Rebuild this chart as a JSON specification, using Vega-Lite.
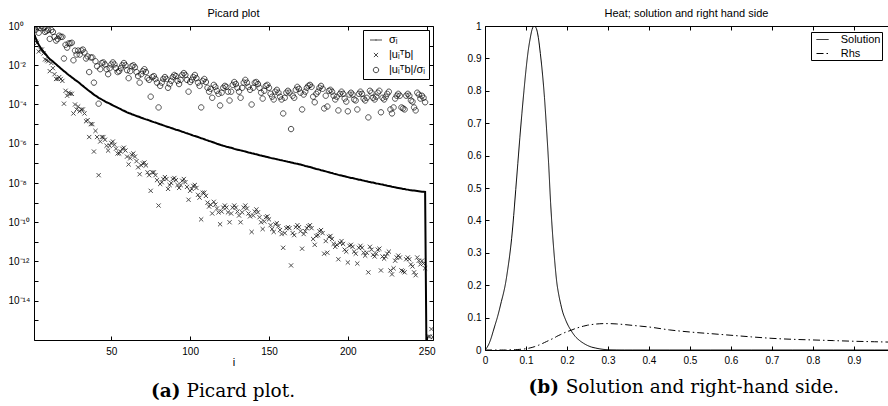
{
  "$schema": "https://vega.github.io/schema/vega-lite/v6.json",
  "background": "white",
  "padding": {"left": 7, "top": 7, "right": 0, "bottom": 0},
  "config": {
    "font": "Liberation Sans",
    "view": {"stroke": "black", "strokeWidth": 1},
    "axis": {"labelColor": "black", "tickColor": "black", "domainColor": "black", "labelFontSize": 10, "labelFont": "Liberation Sans", "grid": false, "titleFontWeight": "normal", "titleColor": "black", "titleFontSize": 11, "titleFont": "Liberation Sans", "tickSize": -4, "labelFlush": false, "labelOverlap": false},
    "title": {"fontWeight": "normal", "fontSize": 11, "color": "black", "font": "Liberation Sans"},
    "legend": {"labelFont": "Liberation Sans", "labelColor": "black"}
  },
  "spacing": 31,
  "resolve": {"scale": {"shape": "independent", "strokeDash": "independent"}, "legend": {"shape": "independent", "strokeDash": "independent"}},
  "hconcat": [
    {
      "spacing": 14,
      "resolve": {"scale": {"shape": "independent", "strokeDash": "independent"}, "legend": {"shape": "independent", "strokeDash": "independent"}},
      "vconcat": [
        {
          "width": 399,
          "height": 314,
          "title": {"text": "Picard plot", "offset": -7, "baseline": "alphabetic"},
          "data": {"values": [
{"i":1,"s":0.4,"u":0.28,"c":0.71},{"i":2,"s":0.25,"u":0.16,"c":0.63},{"i":3,"s":0.16,"u":0.14,"c":0.89},{"i":4,"s":0.11,"u":0.05,"c":0.45},{"i":5,"s":0.083,"u":0.063,"c":0.79},
{"i":6,"s":0.063,"u":0.063,"c":1.0},{"i":7,"s":0.05,"u":0.04,"c":0.79},{"i":8,"s":0.04,"u":0.02,"c":0.5},{"i":9,"s":0.032,"u":0.018,"c":0.56},{"i":10,"s":0.025,"u":0.016,"c":0.63},
{"i":11,"s":0.021,"u":0.005,"c":0.22},{"i":12,"s":0.018,"u":0.013,"c":0.63},{"i":13,"s":0.0155,"u":0.0071,"c":0.5},{"i":14,"s":0.0132,"u":0.0035,"c":0.28},{"i":15,"s":0.0112,"u":0.002,"c":0.18},
{"i":16,"s":0.0095,"u":0.002,"c":0.22},{"i":17,"s":0.0081,"u":0.0025,"c":0.32},{"i":18,"s":0.0069,"u":0.002,"c":0.28},{"i":19,"s":0.0059,"u":0.0016,"c":0.28},{"i":20,"s":0.005,"u":1.1e-4,"c":0.022},
{"i":21,"s":0.0044,"u":5.0e-4,"c":0.11},{"i":22,"s":0.0037,"u":2.8e-4,"c":0.079},{"i":23,"s":0.0032,"u":4.0e-4,"c":0.13},{"i":24,"s":0.0028,"u":3.5e-4,"c":0.13},{"i":25,"s":0.0024,"u":3.5e-4,"c":0.14},
{"i":26,"s":0.0021,"u":3.5e-5,"c":0.018},{"i":27,"s":0.0018,"u":1.0e-4,"c":0.056},{"i":28,"s":0.0016,"u":5.6e-5,"c":0.035},{"i":29,"s":0.0014,"u":7.9e-5,"c":0.056},{"i":30,"s":0.0012,"u":4.5e-5,"c":0.035},
{"i":31,"s":0.00102,"u":5.6e-5,"c":0.056},{"i":32,"s":8.9e-4,"u":5.6e-5,"c":0.063},{"i":33,"s":7.6e-4,"u":3.5e-5,"c":0.045},{"i":34,"s":6.6e-4,"u":1.4e-5,"c":0.022},{"i":35,"s":5.6e-4,"u":1.6e-5,"c":0.028},
{"i":36,"s":4.9e-4,"u":2.2e-6,"c":0.0045},{"i":37,"s":4.3e-4,"u":1.0e-5,"c":0.025},{"i":38,"s":3.7e-4,"u":1.0e-5,"c":0.025},{"i":39,"s":3.2e-4,"u":4.0e-7,"c":0.0013},{"i":40,"s":2.8e-4,"u":4.5e-6,"c":0.016},
{"i":41,"s":2.5e-4,"u":2.2e-6,"c":0.0089},{"i":42,"s":2.2e-4,"u":2.5e-8,"c":1.1e-4},{"i":43,"s":2.0e-4,"u":1.3e-6,"c":0.0063},{"i":44,"s":1.8e-4,"u":2.2e-6,"c":0.013},{"i":45,"s":1.6e-4,"u":2.2e-6,"c":0.014},
{"i":46,"s":1.45e-4,"u":1.6e-6,"c":0.011},{"i":47,"s":1.3e-4,"u":7.9e-7,"c":0.0063},{"i":48,"s":1.2e-4,"u":4.5e-7,"c":0.0035},{"i":49,"s":1.1e-4,"u":7.9e-7,"c":0.0071},{"i":50,"s":1.0e-4,"u":1.1e-6,"c":0.011},
{"i":51,"s":9.1e-5,"u":1.3e-6,"c":0.014},{"i":52,"s":8.3e-5,"u":8.9e-7,"c":0.011},{"i":53,"s":7.6e-5,"u":5.6e-7,"c":0.0071},{"i":54,"s":6.9e-5,"u":3.2e-7,"c":0.0045},{"i":55,"s":6.3e-5,"u":3.2e-7,"c":0.005},
{"i":56,"s":5.8e-5,"u":4.0e-7,"c":0.0071},{"i":57,"s":5.2e-5,"u":5.6e-7,"c":0.01},{"i":58,"s":4.8e-5,"u":6.3e-7,"c":0.013},{"i":59,"s":4.4e-5,"u":4.5e-7,"c":0.01},{"i":60,"s":4.0e-5,"u":2.2e-7,"c":0.0056},
{"i":61,"s":3.7e-5,"u":8.9e-8,"c":0.0022},{"i":62,"s":3.5e-5,"u":1.8e-7,"c":0.005},{"i":63,"s":3.2e-5,"u":2.8e-7,"c":0.0089},{"i":64,"s":3.0e-5,"u":3.2e-7,"c":0.01},{"i":65,"s":2.8e-5,"u":2.2e-7,"c":0.0079},
{"i":66,"s":2.6e-5,"u":1.3e-7,"c":0.0045},{"i":67,"s":2.45e-5,"u":6.3e-8,"c":0.0028},{"i":68,"s":2.3e-5,"u":2.8e-8,"c":0.0013},{"i":69,"s":2.1e-5,"u":7.9e-8,"c":0.0035},{"i":70,"s":2.0e-5,"u":1.0e-7,"c":0.005},
{"i":71,"s":1.86e-5,"u":1.1e-7,"c":0.0063},{"i":72,"s":1.74e-5,"u":7.9e-8,"c":0.0045},{"i":73,"s":1.66e-5,"u":3.5e-8,"c":0.0022},{"i":74,"s":1.55e-5,"u":2.5e-8,"c":0.0018},{"i":75,"s":1.45e-5,"u":4.0e-9,"c":2.5e-4},
{"i":76,"s":1.35e-5,"u":3.5e-8,"c":0.0025},{"i":77,"s":1.26e-5,"u":3.5e-8,"c":0.0028},{"i":78,"s":1.2e-5,"u":2.5e-8,"c":0.002},{"i":79,"s":1.12e-5,"u":1.4e-8,"c":0.0013},{"i":80,"s":1.05e-5,"u":7.1e-10,"c":7.1e-5},
{"i":81,"s":9.8e-6,"u":8.9e-9,"c":8.9e-4},{"i":82,"s":9.3e-6,"u":1.1e-8,"c":0.0013},{"i":83,"s":8.7e-6,"u":1.6e-8,"c":0.002},{"i":84,"s":8.1e-6,"u":2.0e-8,"c":0.0025},{"i":85,"s":7.6e-6,"u":1.6e-8,"c":0.002},
{"i":86,"s":7.2e-6,"u":5.0e-9,"c":7.1e-4},{"i":87,"s":6.8e-6,"u":7.9e-9,"c":0.0011},{"i":88,"s":6.3e-6,"u":1.0e-8,"c":0.0016},{"i":89,"s":6.0e-6,"u":1.6e-8,"c":0.0025},{"i":90,"s":5.6e-6,"u":1.8e-8,"c":0.0032},
{"i":91,"s":5.2e-6,"u":1.4e-8,"c":0.0028},{"i":92,"s":5.0e-6,"u":7.9e-9,"c":0.0016},{"i":93,"s":4.7e-6,"u":5.6e-9,"c":0.0011},{"i":94,"s":4.4e-6,"u":7.9e-9,"c":0.0018},{"i":95,"s":4.1e-6,"u":1.3e-8,"c":0.0032},
{"i":96,"s":3.9e-6,"u":1.6e-8,"c":0.004},{"i":97,"s":3.6e-6,"u":1.1e-8,"c":0.0032},{"i":98,"s":3.4e-6,"u":6.3e-9,"c":0.0018},{"i":99,"s":3.2e-6,"u":1.4e-9,"c":4.5e-4},{"i":100,"s":3.0e-6,"u":4.0e-9,"c":0.0014},
{"i":101,"s":2.8e-6,"u":5.0e-9,"c":0.0018},{"i":102,"s":2.6e-6,"u":7.1e-9,"c":0.0025},{"i":103,"s":2.5e-6,"u":7.9e-9,"c":0.0032},{"i":104,"s":2.35e-6,"u":5.6e-9,"c":0.0022},{"i":105,"s":2.2e-6,"u":2.5e-9,"c":0.0013},
{"i":106,"s":2.04e-6,"u":1.8e-9,"c":8.9e-4},{"i":107,"s":1.9e-6,"u":1.4e-10,"c":7.1e-5},{"i":108,"s":1.82e-6,"u":3.2e-9,"c":0.0016},{"i":109,"s":1.7e-6,"u":3.2e-9,"c":0.002},{"i":110,"s":1.58e-6,"u":2.2e-9,"c":0.0014},
{"i":111,"s":1.48e-6,"u":1.0e-9,"c":7.1e-4},{"i":112,"s":1.38e-6,"u":6.3e-10,"c":4.5e-4},{"i":113,"s":1.32e-6,"u":7.9e-10,"c":6.3e-4},{"i":114,"s":1.23e-6,"u":2.8e-10,"c":2.2e-4},{"i":115,"s":1.15e-6,"u":1.1e-9,"c":0.001},
{"i":116,"s":1.07e-6,"u":7.9e-10,"c":7.9e-4},{"i":117,"s":1.0e-6,"u":5.0e-10,"c":5.0e-4},{"i":118,"s":9.5e-7,"u":3.2e-10,"c":3.5e-4},{"i":119,"s":8.9e-7,"u":7.9e-11,"c":8.9e-5},{"i":120,"s":8.3e-7,"u":3.5e-10,"c":4.0e-4},
{"i":121,"s":7.9e-7,"u":5.6e-10,"c":7.1e-4},{"i":122,"s":7.6e-7,"u":7.1e-10,"c":8.9e-4},{"i":123,"s":7.1e-7,"u":5.6e-10,"c":7.9e-4},{"i":124,"s":6.8e-7,"u":3.2e-10,"c":4.5e-4},{"i":125,"s":6.5e-7,"u":1.0e-10,"c":1.6e-4},
{"i":126,"s":6.2e-7,"u":2.8e-10,"c":4.5e-4},{"i":127,"s":5.9e-7,"u":5.6e-10,"c":0.001},{"i":128,"s":5.5e-7,"u":7.1e-10,"c":0.0014},{"i":129,"s":5.2e-7,"u":5.6e-10,"c":0.0011},{"i":130,"s":5.0e-7,"u":3.5e-10,"c":7.1e-4},
{"i":131,"s":4.8e-7,"u":2.2e-10,"c":4.5e-4},{"i":132,"s":4.6e-7,"u":1.0e-10,"c":2.2e-4},{"i":133,"s":4.4e-7,"u":3.2e-10,"c":7.1e-4},{"i":134,"s":4.2e-7,"u":5.6e-10,"c":0.0013},{"i":135,"s":4.0e-7,"u":7.1e-10,"c":0.0018},
{"i":136,"s":3.8e-7,"u":5.0e-10,"c":0.0013},{"i":137,"s":3.6e-7,"u":2.8e-10,"c":7.9e-4},{"i":138,"s":3.5e-7,"u":2.0e-10,"c":5.6e-4},{"i":139,"s":3.3e-7,"u":3.2e-11,"c":1.0e-4},{"i":140,"s":3.2e-7,"u":2.2e-10,"c":7.1e-4},
{"i":141,"s":3.0e-7,"u":3.5e-10,"c":0.0013},{"i":142,"s":2.9e-7,"u":4.5e-10,"c":0.0014},{"i":143,"s":2.75e-7,"u":3.2e-10,"c":0.0011},{"i":144,"s":2.6e-7,"u":1.8e-10,"c":7.1e-4},{"i":145,"s":2.5e-7,"u":1.0e-10,"c":4.0e-4},
{"i":146,"s":2.4e-7,"u":4.5e-11,"c":2.0e-4},{"i":147,"s":2.3e-7,"u":1.1e-10,"c":5.0e-4},{"i":148,"s":2.2e-7,"u":1.8e-10,"c":8.9e-4},{"i":149,"s":2.1e-7,"u":2.0e-10,"c":0.001},{"i":150,"s":2.0e-7,"u":1.4e-10,"c":7.1e-4},
{"i":151,"s":1.9e-7,"u":7.1e-11,"c":3.5e-4},{"i":152,"s":1.82e-7,"u":4.5e-11,"c":2.5e-4},{"i":153,"s":1.78e-7,"u":3.2e-11,"c":1.8e-4},{"i":154,"s":1.7e-7,"u":7.9e-11,"c":4.5e-4},{"i":155,"s":1.62e-7,"u":8.9e-11,"c":5.6e-4},
{"i":156,"s":1.55e-7,"u":6.3e-11,"c":4.0e-4},{"i":157,"s":1.48e-7,"u":4.0e-11,"c":2.5e-4},{"i":158,"s":1.45e-7,"u":2.5e-11,"c":1.8e-4},{"i":159,"s":1.38e-7,"u":5.0e-12,"c":3.5e-5},{"i":160,"s":1.32e-7,"u":2.8e-11,"c":2.2e-4},
{"i":161,"s":1.26e-7,"u":5.0e-11,"c":4.0e-4},{"i":162,"s":1.2e-7,"u":5.6e-11,"c":5.0e-4},{"i":163,"s":1.17e-7,"u":5.0e-11,"c":4.0e-4},{"i":164,"s":1.12e-7,"u":6.3e-13,"c":5.6e-6},{"i":165,"s":1.07e-7,"u":2.8e-11,"c":2.8e-4},
{"i":166,"s":1.02e-7,"u":2.2e-11,"c":2.2e-4},{"i":167,"s":9.8e-8,"u":5.6e-11,"c":5.6e-4},{"i":168,"s":9.5e-8,"u":7.1e-11,"c":7.9e-4},{"i":169,"s":9.1e-8,"u":5.6e-11,"c":6.3e-4},{"i":170,"s":8.7e-8,"u":3.5e-11,"c":4.0e-4},
{"i":171,"s":8.3e-8,"u":4.5e-12,"c":5.6e-5},{"i":172,"s":7.9e-8,"u":2.5e-11,"c":3.2e-4},{"i":173,"s":7.4e-8,"u":3.5e-11,"c":4.5e-4},{"i":174,"s":7.1e-8,"u":5.0e-11,"c":7.1e-4},{"i":175,"s":6.8e-8,"u":6.3e-11,"c":8.9e-4},
{"i":176,"s":6.5e-8,"u":7.1e-11,"c":0.001},{"i":177,"s":6.2e-8,"u":5.0e-11,"c":7.9e-4},{"i":178,"s":5.8e-8,"u":1.4e-11,"c":2.5e-4},{"i":179,"s":5.5e-8,"u":7.1e-12,"c":1.3e-4},{"i":180,"s":5.2e-8,"u":2.0e-11,"c":3.5e-4},
{"i":181,"s":5.0e-8,"u":2.2e-11,"c":4.5e-4},{"i":182,"s":4.8e-8,"u":3.5e-11,"c":7.1e-4},{"i":183,"s":4.5e-8,"u":4.0e-11,"c":8.9e-4},{"i":184,"s":4.3e-8,"u":2.8e-11,"c":6.3e-4},{"i":185,"s":4.1e-8,"u":2.5e-12,"c":6.3e-5},
{"i":186,"s":3.9e-8,"u":1.1e-11,"c":2.8e-4},{"i":187,"s":3.7e-8,"u":2.8e-12,"c":7.9e-5},{"i":188,"s":3.5e-8,"u":1.8e-11,"c":5.0e-4},{"i":189,"s":3.3e-8,"u":2.0e-11,"c":5.6e-4},{"i":190,"s":3.2e-8,"u":1.4e-11,"c":4.5e-4},
{"i":191,"s":3.0e-8,"u":7.9e-12,"c":2.8e-4},{"i":192,"s":2.9e-8,"u":5.6e-12,"c":1.8e-4},{"i":193,"s":2.75e-8,"u":7.1e-12,"c":2.5e-4},{"i":194,"s":2.6e-8,"u":1.3e-12,"c":5.0e-5},{"i":195,"s":2.5e-8,"u":8.9e-12,"c":3.5e-4},
{"i":196,"s":2.4e-8,"u":1.1e-11,"c":4.5e-4},{"i":197,"s":2.3e-8,"u":7.9e-12,"c":3.5e-4},{"i":198,"s":2.2e-8,"u":4.0e-12,"c":2.0e-4},{"i":199,"s":2.1e-8,"u":3.2e-12,"c":1.4e-4},{"i":200,"s":2.0e-8,"u":8.9e-13,"c":4.5e-5},
{"i":201,"s":1.9e-8,"u":6.3e-12,"c":3.2e-4},{"i":202,"s":1.82e-8,"u":7.1e-12,"c":4.0e-4},{"i":203,"s":1.78e-8,"u":5.6e-12,"c":3.2e-4},{"i":204,"s":1.7e-8,"u":3.2e-12,"c":1.8e-4},{"i":205,"s":1.62e-8,"u":2.5e-12,"c":1.6e-4},
{"i":206,"s":1.55e-8,"u":7.9e-13,"c":5.6e-5},{"i":207,"s":1.48e-8,"u":5.0e-12,"c":3.5e-4},{"i":208,"s":1.45e-8,"u":6.3e-12,"c":4.5e-4},{"i":209,"s":1.38e-8,"u":5.0e-12,"c":3.5e-4},{"i":210,"s":1.32e-8,"u":2.8e-12,"c":2.0e-4},
{"i":211,"s":1.26e-8,"u":2.0e-12,"c":1.6e-4},{"i":212,"s":1.23e-8,"u":2.8e-12,"c":2.2e-4},{"i":213,"s":1.17e-8,"u":2.8e-13,"c":2.2e-5},{"i":214,"s":1.12e-8,"u":5.6e-12,"c":5.0e-4},{"i":215,"s":1.07e-8,"u":4.0e-12,"c":4.0e-4},
{"i":216,"s":1.05e-8,"u":2.2e-12,"c":2.2e-4},{"i":217,"s":1.0e-8,"u":1.8e-12,"c":1.8e-4},{"i":218,"s":9.5e-9,"u":2.5e-12,"c":2.5e-4},{"i":219,"s":9.3e-9,"u":4.0e-12,"c":4.0e-4},{"i":220,"s":8.9e-9,"u":4.5e-12,"c":5.0e-4},
{"i":221,"s":8.5e-9,"u":3.5e-13,"c":4.0e-5},{"i":222,"s":8.3e-9,"u":1.8e-12,"c":2.2e-4},{"i":223,"s":7.9e-9,"u":1.4e-12,"c":1.8e-4},{"i":224,"s":7.6e-9,"u":1.8e-12,"c":2.5e-4},{"i":225,"s":7.2e-9,"u":2.5e-12,"c":3.5e-4},
{"i":226,"s":7.1e-9,"u":3.2e-12,"c":4.5e-4},{"i":227,"s":6.8e-9,"u":3.5e-13,"c":5.6e-5},{"i":228,"s":6.5e-9,"u":2.2e-13,"c":3.5e-5},{"i":229,"s":6.3e-9,"u":4.5e-13,"c":7.1e-5},{"i":230,"s":6.0e-9,"u":1.1e-12,"c":2.0e-4},
{"i":231,"s":5.8e-9,"u":1.6e-12,"c":2.8e-4},{"i":232,"s":5.6e-9,"u":2.0e-12,"c":3.5e-4},{"i":233,"s":5.4e-9,"u":1.6e-12,"c":2.8e-4},{"i":234,"s":5.2e-9,"u":3.5e-13,"c":7.1e-5},{"i":235,"s":5.0e-9,"u":3.2e-13,"c":6.3e-5},
{"i":236,"s":4.9e-9,"u":2.8e-13,"c":5.6e-5},{"i":237,"s":4.7e-9,"u":1.3e-12,"c":2.8e-4},{"i":238,"s":4.6e-9,"u":1.6e-12,"c":3.5e-4},{"i":239,"s":4.4e-9,"u":1.3e-12,"c":2.8e-4},{"i":240,"s":4.3e-9,"u":7.1e-13,"c":1.6e-4},
{"i":241,"s":4.2e-9,"u":5.6e-13,"c":1.4e-4},{"i":242,"s":4.1e-9,"u":2.8e-13,"c":7.1e-5},{"i":243,"s":4.0e-9,"u":2.0e-13,"c":5.0e-5},{"i":244,"s":3.9e-9,"u":1.6e-12,"c":4.0e-4},{"i":245,"s":3.8e-9,"u":1.1e-12,"c":3.2e-4},
{"i":246,"s":3.7e-9,"u":7.1e-13,"c":2.0e-4},{"i":247,"s":3.6e-9,"u":1.1e-12,"c":2.8e-4},{"i":248,"s":3.6e-9,"u":7.9e-13,"c":2.2e-4},{"i":249,"s":3.5e-9,"u":4.5e-13,"c":1.3e-4},{"i":250,"s":1e-18},
{"i":251,"u":1.5e-16},{"i":252,"u":1.5e-16},{"i":253,"u":3.6e-16},{"i":254,"u":1.4e-16}
          ]},
          "resolve": {"axis": {"x": "independent", "y": "independent"}},
          "layer": [
            {
              "mark": {"type": "line", "color": "black", "strokeWidth": 2, "clip": true},
              "encoding": {
                "x": {"field": "i", "type": "quantitative", "scale": {"domain": [1, 254], "nice": false, "zero": false}, "axis": {"orient": "top", "labels": false, "values": [50, 100, 150, 200, 250], "title": null, "domain": false, "minExtent": 0, "maxExtent": 0}},
                "y": {"field": "s", "type": "quantitative", "scale": {"type": "log", "domain": [1e-16, 1], "nice": false}, "axis": {"orient": "right", "labels": false, "title": null, "domain": false, "minExtent": 0, "maxExtent": 0, "values": [1e-16, 1e-15, 1e-14, 1e-13, 1e-12, 1e-11, 1e-10, 1e-9, 1e-8, 1e-7, 1e-6, 1e-5, 1e-4, 1e-3, 1e-2, 1e-1, 1]}}
              }
            },
            {
              "mark": {"type": "point", "filled": false, "color": "black", "strokeWidth": 1, "size": 144, "clip": true},
              "encoding": {
                "x": {"field": "i", "type": "quantitative", "scale": {"domain": [1, 254], "nice": false, "zero": false}, "axis": {"orient": "bottom", "values": [50, 100, 150, 200, 250], "title": "i", "labelPadding": 10.5, "titlePadding": 0, "domain": false}},
                "y": {"field": "u", "type": "quantitative", "scale": {"type": "log", "domain": [1e-16, 1], "nice": false}, "axis": {"orient": "left", "title": null, "domain": false, "labelAlign": "left", "labelPadding": 30, "values": [1e-16, 1e-15, 1e-14, 1e-13, 1e-12, 1e-11, 1e-10, 1e-9, 1e-8, 1e-7, 1e-6, 1e-5, 1e-4, 1e-3, 1e-2, 1e-1, 1], "labelExpr": "['10⁰','','10⁻²','','10⁻⁴','','10⁻⁶','','10⁻⁸','','10⁻¹⁰','','10⁻¹²','','10⁻¹⁴','',''][round(-log(datum.value)/LN10)]"}},
                "shape": {
                  "datum": "|uᵢᵀb|",
                  "scale": {"domain": ["σᵢ", "|uᵢᵀb|", "|uᵢᵀb|/σᵢ"], "range": ["M-1,0L1,0M0,-0.12L0,0.12", "M-0.35,-0.35L0.35,0.35M-0.35,0.35L0.35,-0.35", "M0.45,0A0.45,0.45,0,1,1,-0.45,0A0.45,0.45,0,1,1,0.45,0Z"]},
                  "legend": {"title": null, "orient": "top-right", "offset": 4, "padding": 3.5, "strokeColor": "black", "fillColor": "white", "symbolSize": 144, "symbolStrokeWidth": 1, "symbolStrokeColor": "black", "symbolFillColor": "transparent", "symbolOffset": 3, "labelOffset": 6.5, "rowPadding": 3, "labelFontSize": 11, "cornerRadius": 0}
                }
              }
            },
            {
              "mark": {"type": "point", "filled": false, "color": "black", "strokeWidth": 1, "size": 144, "clip": true},
              "encoding": {
                "x": {"field": "i", "type": "quantitative", "scale": {"domain": [1, 254], "nice": false, "zero": false}, "axis": null},
                "y": {"field": "c", "type": "quantitative", "scale": {"type": "log", "domain": [1e-16, 1], "nice": false}, "axis": null},
                "shape": {"datum": "|uᵢᵀb|/σᵢ"}
              }
            }
          ]
        },
        {
          "width": 399,
          "height": 20,
          "view": {"stroke": null},
          "data": {"values": [{"a": "(a)", "b": "Picard plot."}]},
          "layer": [
            {"mark": {"type": "text", "align": "right", "baseline": "alphabetic", "font": "DejaVu Serif", "fontSize": 18.5, "fontWeight": "bold", "color": "black", "dx": -53}, "encoding": {"text": {"field": "a"}}},
            {"mark": {"type": "text", "align": "left", "baseline": "alphabetic", "font": "DejaVu Serif", "fontSize": 18.5, "color": "black", "dx": -47}, "encoding": {"text": {"field": "b"}}}
          ]
        }
      ]
    },
    {
      "spacing": 12,
      "resolve": {"scale": {"shape": "independent", "strokeDash": "independent"}, "legend": {"shape": "independent", "strokeDash": "independent"}},
      "vconcat": [
        {
          "width": 403,
          "height": 324,
          "title": {"text": "Heat; solution and right hand side", "offset": -7, "baseline": "alphabetic"},
          "view": {"stroke": null},
          "data": {"values": [
{"t":0,"sol":0,"rhs":0},{"t":0.005,"sol":0.008,"rhs":0},{"t":0.01,"sol":0.02,"rhs":0},{"t":0.015,"sol":0.037,"rhs":0},{"t":0.02,"sol":0.058,"rhs":0},
{"t":0.025,"sol":0.079,"rhs":0},{"t":0.03,"sol":0.1,"rhs":0},{"t":0.035,"sol":0.124,"rhs":0},{"t":0.04,"sol":0.15,"rhs":0},{"t":0.045,"sol":0.175,"rhs":0},
{"t":0.05,"sol":0.205,"rhs":0},{"t":0.055,"sol":0.245,"rhs":0},{"t":0.06,"sol":0.29,"rhs":0.0005},{"t":0.065,"sol":0.345,"rhs":0.0006},{"t":0.07,"sol":0.415,"rhs":0.0008},
{"t":0.075,"sol":0.495,"rhs":0.001},{"t":0.08,"sol":0.575,"rhs":0.0015},{"t":0.085,"sol":0.655,"rhs":0.002},{"t":0.09,"sol":0.73,"rhs":0.0025},{"t":0.095,"sol":0.8,"rhs":0.003},
{"t":0.1,"sol":0.865,"rhs":0.004},{"t":0.105,"sol":0.92,"rhs":0.005},{"t":0.11,"sol":0.96,"rhs":0.0065},{"t":0.115,"sol":0.99,"rhs":0.008},{"t":0.12,"sol":1.0,"rhs":0.01},
{"t":0.125,"sol":0.993,"rhs":0.012},{"t":0.13,"sol":0.965,"rhs":0.0145},{"t":0.135,"sol":0.915,"rhs":0.017},{"t":0.14,"sol":0.855,"rhs":0.02},{"t":0.145,"sol":0.78,"rhs":0.023},
{"t":0.15,"sol":0.685,"rhs":0.026},{"t":0.155,"sol":0.58,"rhs":0.029},{"t":0.16,"sol":0.455,"rhs":0.032},{"t":0.165,"sol":0.355,"rhs":0.035},{"t":0.17,"sol":0.275,"rhs":0.038},
{"t":0.175,"sol":0.21,"rhs":0.042},{"t":0.18,"sol":0.17,"rhs":0.045},{"t":0.185,"sol":0.14,"rhs":0.048},{"t":0.19,"sol":0.115,"rhs":0.051},{"t":0.195,"sol":0.098,"rhs":0.054},
{"t":0.2,"sol":0.083,"rhs":0.0565},{"t":0.21,"sol":0.06,"rhs":0.061},{"t":0.22,"sol":0.042,"rhs":0.066},{"t":0.23,"sol":0.03,"rhs":0.07},{"t":0.24,"sol":0.021,"rhs":0.0735},
{"t":0.25,"sol":0.014,"rhs":0.0765},{"t":0.26,"sol":0.009,"rhs":0.0785},{"t":0.27,"sol":0.006,"rhs":0.08},{"t":0.28,"sol":0.0035,"rhs":0.081},{"t":0.29,"sol":0.0018,"rhs":0.0815},
{"t":0.3,"sol":0.0008,"rhs":0.0815},{"t":0.32,"sol":0.0002,"rhs":0.0805},{"t":0.34,"sol":0,"rhs":0.0785},{"t":0.36,"sol":0,"rhs":0.076},{"t":0.38,"sol":0,"rhs":0.0735},
{"t":0.4,"sol":0,"rhs":0.071},{"t":0.45,"sol":0,"rhs":0.062},{"t":0.5,"sol":0,"rhs":0.0555},{"t":0.55,"sol":0,"rhs":0.0505},{"t":0.6,"sol":0,"rhs":0.0455},
{"t":0.65,"sol":0,"rhs":0.0405},{"t":0.7,"sol":0,"rhs":0.036},{"t":0.75,"sol":0,"rhs":0.033},{"t":0.8,"sol":0,"rhs":0.031},{"t":0.85,"sol":0,"rhs":0.029},
{"t":0.9,"sol":0,"rhs":0.027},{"t":0.95,"sol":0,"rhs":0.0255},{"t":1.0,"sol":0,"rhs":0.024}
          ]},
          "resolve": {"axis": {"x": "independent", "y": "independent"}},
          "layer": [
            {
              "mark": {"type": "line", "color": "black", "strokeWidth": 1, "clip": true, "interpolate": "monotone"},
              "encoding": {
                "x": {"field": "t", "type": "quantitative", "scale": {"domain": [0, 0.983], "nice": false, "zero": false}, "axis": {"orient": "bottom", "values": [0, 0.1, 0.2, 0.3, 0.4, 0.5, 0.6, 0.7, 0.8, 0.9], "format": "~g", "labelPadding": 9.5, "title": null}},
                "y": {"field": "sol", "type": "quantitative", "scale": {"domain": [0, 1], "nice": false}, "axis": {"orient": "left", "values": [0, 0.1, 0.2, 0.3, 0.4, 0.5, 0.6, 0.7, 0.8, 0.9, 1], "format": "~g", "labelPadding": 8, "title": null}},
                "strokeDash": {
                  "datum": "Solution",
                  "scale": {"domain": ["Solution", "Rhs"], "range": [[1, 0], [7, 3, 1.5, 3]]},
                  "legend": {"title": null, "orient": "top-right", "offset": 6, "padding": 1, "strokeColor": "black", "fillColor": "white", "symbolType": "stroke", "symbolSize": 144, "symbolStrokeWidth": 1, "symbolStrokeColor": "black", "symbolOffset": 4, "labelOffset": 11.7, "rowPadding": 2, "labelFontSize": 11, "cornerRadius": 0}
                }
              }
            },
            {
              "mark": {"type": "line", "color": "black", "strokeWidth": 1, "clip": true, "interpolate": "monotone"},
              "encoding": {
                "x": {"field": "t", "type": "quantitative", "scale": {"domain": [0, 0.983], "nice": false, "zero": false}, "axis": {"orient": "top", "labels": false, "values": [0, 0.1, 0.2, 0.3, 0.4, 0.5, 0.6, 0.7, 0.8, 0.9], "title": null, "minExtent": 0, "maxExtent": 0}},
                "y": {"field": "rhs", "type": "quantitative", "scale": {"domain": [0, 1], "nice": false}, "axis": null},
                "strokeDash": {"datum": "Rhs"}
              }
            }
          ]
        },
        {
          "width": 403,
          "height": 20,
          "view": {"stroke": null},
          "data": {"values": [{"a": "(b)", "b": "Solution and right-hand side."}]},
          "layer": [
            {"mark": {"type": "text", "align": "right", "baseline": "alphabetic", "font": "DejaVu Serif", "fontSize": 18.5, "fontWeight": "bold", "color": "black", "dx": -127.5}, "encoding": {"text": {"field": "a"}}},
            {"mark": {"type": "text", "align": "left", "baseline": "alphabetic", "font": "DejaVu Serif", "fontSize": 18.5, "color": "black", "dx": -120.8}, "encoding": {"text": {"field": "b"}}}
          ]
        }
      ]
    }
  ]
}
